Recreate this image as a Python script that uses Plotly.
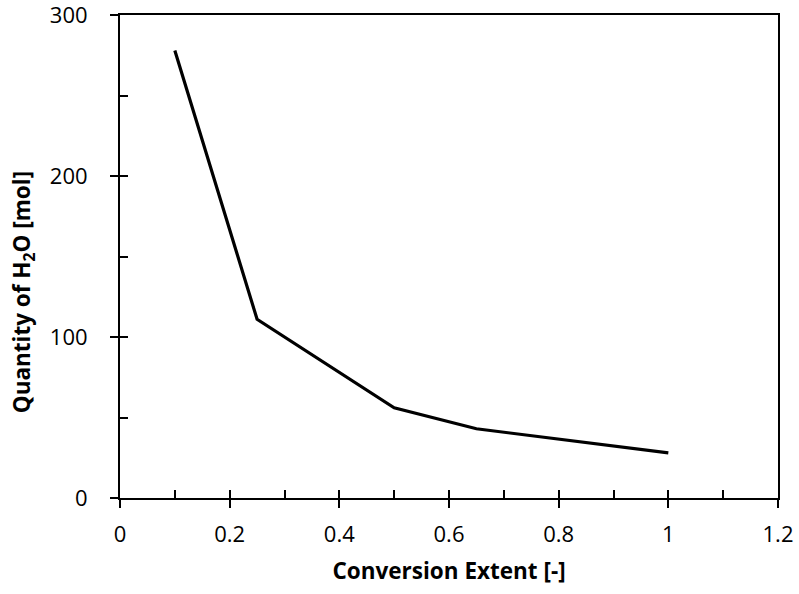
import plotly.graph_objects as go

conversion = [0.1, 0.25, 0.5, 0.65, 1.0]
water_mol = [278, 111, 56, 43, 28]

x_ticks = [0, 0.2, 0.4, 0.6, 0.8, 1, 1.2]
x_tick_labels = ["0", "0.2", "0.4", "0.6", "0.8", "1", "1.2"]
y_ticks = [0, 100, 200, 300]
y_tick_labels = ["0", "100", "200", "300"]
x_title = "<b>Conversion Extent [-]</b>"
y_title = "<b>Quantity of H<sub>2</sub>O [mol]</b>"

FONT = "'Open Sans', Lato, sans-serif"

fig = go.Figure()
fig.add_trace(go.Scatter(x=conversion, y=water_mol, mode="lines",
                         line=dict(color="black", width=3.2), showlegend=False))
fig.add_trace(go.Scatter(x=[0], y=[0], xaxis="x2", yaxis="y2", mode="markers",
                         marker=dict(opacity=0), showlegend=False, hoverinfo="skip"))

common = dict(showgrid=False, zeroline=False, linecolor="black", linewidth=2, automargin=False)

fig.update_layout(
    width=799, height=594,
    margin=dict(l=120, r=21, t=15, b=96, autoexpand=False),
    plot_bgcolor="white", paper_bgcolor="white",
    font=dict(family=FONT, size=22, color="black"),
    xaxis=dict(range=[0, 1.2], tickvals=x_ticks, ticktext=x_tick_labels,
               ticks="outside", ticklen=8, tickwidth=2, tickcolor="black",
               mirror=True, showline=True, ticklabelstandoff=8,
               ticklabeloverflow="allow",
               tickfont=dict(size=22),
               title=dict(text=x_title, font=dict(size=22.5), standoff=16),
               **common),
    yaxis=dict(range=[0, 300], tickvals=y_ticks, ticktext=y_tick_labels,
               ticks="outside", ticklen=8, tickwidth=2, tickcolor="black",
               mirror=True, showline=True, ticklabelstandoff=18,
               ticklabeloverflow="allow",
               tickfont=dict(size=22),
               **common),
    xaxis2=dict(range=[0, 1.2], overlaying="x", side="bottom", dtick=0.1, tick0=0,
                ticks="inside", ticklen=8, tickwidth=2, tickcolor="black", automargin=False,
                showticklabels=False, showline=False, showgrid=False, zeroline=False),
    yaxis2=dict(range=[0, 300], overlaying="y", side="left", dtick=50, tick0=0,
                ticks="inside", ticklen=8, tickwidth=2, tickcolor="black", automargin=False,
                showticklabels=False, showline=False, showgrid=False, zeroline=False),
    annotations=[dict(text=y_title, textangle=-90, showarrow=False,
                      xref="paper", yref="paper", x=-0.147, y=0.4265,
                      xanchor="center", yanchor="middle",
                      font=dict(size=22.5, family=FONT, color="black"))],
)

fig.write_html("out.html", config={"displayModeBar": False},
               post_script="document.body.style.margin='0';")
